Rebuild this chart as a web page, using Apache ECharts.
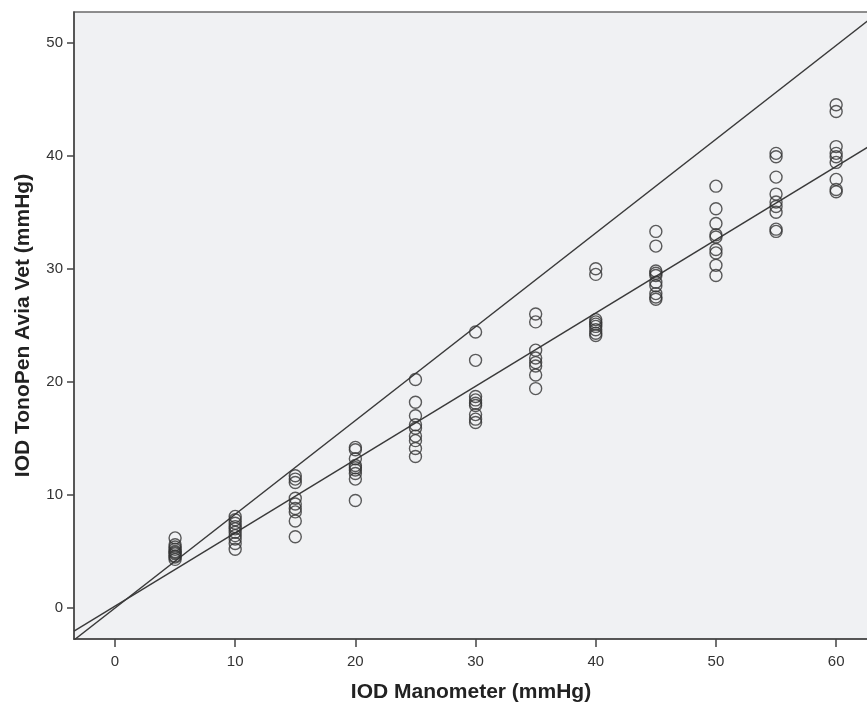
<!DOCTYPE html>
<html>
<head>
<meta charset="utf-8">
<script src="https://cdn.jsdelivr.net/npm/echarts@6/dist/echarts.min.js"></script>
<style>
html,body{margin:0;padding:0;background:#ffffff;}
#chart{width:867px;height:706px;}
</style>
</head>
<body>
<div id="chart"></div>
<script>
// Manometer groups (x) and TonoPen readings (y)
var manometer = [5, 10, 15, 20, 25, 30, 35, 40, 45, 50, 55, 60];
var tonopen = [
  [6.2, 5.6, 5.4, 5.2, 5.0, 4.9, 4.8, 4.6, 4.5, 4.3],
  [8.1, 7.8, 7.5, 7.2, 7.0, 6.7, 6.4, 6.1, 5.7, 5.2],
  [11.7, 11.4, 11.1, 9.7, 9.2, 8.8, 8.5, 7.7, 6.3],
  [14.2, 14.0, 13.2, 12.6, 12.4, 12.2, 11.9, 11.4, 9.5],
  [20.2, 18.2, 17.0, 16.2, 15.9, 15.2, 14.8, 14.1, 13.4],
  [24.4, 21.9, 18.7, 18.4, 18.1, 17.9, 17.1, 16.7, 16.4],
  [26.0, 25.3, 22.8, 22.1, 21.7, 21.4, 20.6, 19.4],
  [30.0, 29.5, 25.5, 25.3, 25.1, 24.9, 24.6, 24.3, 24.1],
  [33.3, 32.0, 29.8, 29.6, 29.4, 28.8, 28.5, 27.8, 27.5, 27.3],
  [37.3, 35.3, 34.0, 33.0, 32.8, 31.7, 31.4, 30.3, 29.4],
  [40.2, 39.9, 38.1, 36.6, 35.9, 35.5, 35.0, 33.5, 33.3],
  [44.5, 43.9, 40.8, 40.2, 39.9, 39.4, 37.9, 37.0, 36.8]
];
// Line endpoints
var upperLineX = [-3.41, 62.65];
var upperLineY = [-2.83, 51.94];
var lowerLineX = [-3.41, 62.65];
var lowerLineY = [-2.05, 40.76];
var xTickLabels = [0, 10, 20, 30, 40, 50, 60];
var yTickLabels = [0, 10, 20, 30, 40, 50];

var points = [];
manometer.forEach(function (m, i) {
  tonopen[i].forEach(function (v) { points.push([m, v]); });
});
function pairs(xs, ys) { return xs.map(function (x, i) { return [x, ys[i]]; }); }

var axisFont = '"Liberation Sans", Arial, sans-serif';
var chart = echarts.init(document.getElementById('chart'), null, {renderer: 'canvas'});
chart.setOption({
  animation: false,
  backgroundColor: '#ffffff',
  grid: {
    left: 74, top: 12, right: -1, bottom: 67,
    containLabel: false, outerBoundsMode: 'none',
    show: true, backgroundColor: '#f0f1f3', borderColor: '#6a6a6a', borderWidth: 1.5
  },
  xAxis: {
    type: 'value', min: -3.41, max: 62.65,
    name: 'IOD Manometer (mmHg)', nameLocation: 'middle', nameGap: 43,
    nameTextStyle: {fontFamily: axisFont, fontWeight: 'bold', fontSize: 21, color: '#222'},
    axisLine: {show: true, onZero: false, lineStyle: {color: '#444', width: 1.5}},
    axisTick: {show: true, length: 8, customValues: xTickLabels, lineStyle: {color: '#444', width: 1.5}},
    axisLabel: {
      margin: 15, fontFamily: axisFont, fontSize: 15, color: '#333',
      customValues: xTickLabels
    },
    splitLine: {show: false}
  },
  yAxis: {
    type: 'value', min: -2.74, max: 52.7,
    name: 'IOD TonoPen Avia Vet (mmHg)', nameLocation: 'middle', nameGap: 40,
    nameTextStyle: {fontFamily: axisFont, fontWeight: 'bold', fontSize: 21, color: '#222'},
    axisLine: {show: true, onZero: false, lineStyle: {color: '#444', width: 1.5}},
    axisTick: {show: true, length: 7, customValues: yTickLabels, lineStyle: {color: '#444', width: 1.5}},
    axisLabel: {
      margin: 11, fontFamily: axisFont, fontSize: 15, color: '#333',
      customValues: yTickLabels
    },
    splitLine: {show: false}
  },
  series: [
    {
      type: 'line', data: pairs(upperLineX, upperLineY), symbol: 'none', clip: true,
      lineStyle: {color: '#3a3a3a', width: 1.4}, z: 2
    },
    {
      type: 'line', data: pairs(lowerLineX, lowerLineY), symbol: 'none', clip: true,
      lineStyle: {color: '#3a3a3a', width: 1.4}, z: 2
    },
    {
      type: 'scatter', data: points, symbol: 'circle', symbolSize: 12,
      itemStyle: {color: 'rgba(0,0,0,0)', borderColor: '#333', borderWidth: 1.4}, z: 3
    }
  ]
});
</script>
</body>
</html>
